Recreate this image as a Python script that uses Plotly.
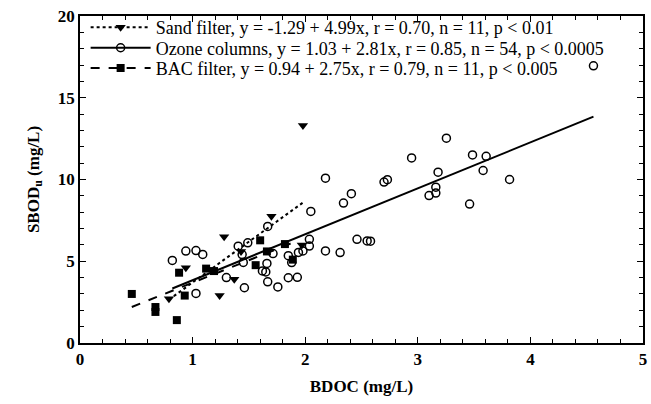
import plotly.graph_objects as go

# ---- data ----
sand_x = [0.79, 0.94, 1.24, 1.28, 1.37, 1.43, 1.70, 1.97, 1.98]
sand_y = [2.7, 4.6, 2.9, 6.5, 3.9, 5.6, 7.75, 6.0, 13.3]

ozone_x = [0.82, 0.94, 1.03, 1.09, 1.03, 1.30, 1.405, 1.49, 1.44, 1.45, 1.46,
           1.667, 1.62, 1.65, 1.66, 1.667, 1.757, 1.714, 1.85, 1.88, 1.85, 1.93,
           1.94, 1.98, 2.037, 2.037, 2.05, 2.18, 2.18, 2.31, 2.34, 2.41, 2.46,
           2.55, 2.58, 2.70, 2.73, 2.945, 3.254, 3.18, 3.16, 3.10, 3.16, 3.486,
           3.607, 3.58, 3.46, 3.815, 4.56]
ozone_y = [5.05, 5.62, 5.65, 5.42, 3.03, 4.00, 5.92, 6.13, 5.41, 4.93, 3.38,
           7.13, 4.41, 4.35, 4.87, 3.74, 3.43, 5.47, 5.34, 4.92, 3.99, 4.02,
           5.54, 5.63, 5.93, 6.34, 8.05, 10.08, 5.63, 5.53, 8.56, 9.13, 6.34,
           6.24, 6.23, 9.84, 9.99, 11.32, 12.53, 10.45, 9.53, 9.02, 9.17, 11.5,
           11.42, 10.55, 8.5, 10.0, 16.95]

bac_x = [0.46, 0.67, 0.67, 0.86, 0.88, 0.93, 1.12, 1.19, 1.56, 1.60, 1.66, 1.82, 1.89]
bac_y = [3.0, 2.2, 1.9, 1.4, 4.3, 2.9, 4.55, 4.4, 4.76, 6.28, 5.6, 6.05, 5.1]

# regression coefficients (from legend)
sand_fit = (-1.29, 4.99)
ozone_fit = (1.03, 2.81)
bac_fit = (0.94, 2.75)

labels = [
    "Sand filter, y = -1.29 + 4.99x, r = 0.70, n = 11, p < 0.01",
    "Ozone columns, y = 1.03 + 2.81x, r = 0.85, n = 54, p < 0.0005",
    "BAC filter, y = 0.94 + 2.75x, r = 0.79, n = 11, p < 0.005",
]

FONT = "Liberation Serif"


def fit_line(xs, coef):
    x0, x1 = min(xs), max(xs)
    return [x0, x1], [coef[0] + coef[1] * x0, coef[0] + coef[1] * x1]


fig = go.Figure()

groups = [
    (sand_x, sand_y, sand_fit, "dot", dict(symbol="triangle-down", size=9, color="black"), labels[0]),
    (ozone_x, ozone_y, ozone_fit, "solid",
     dict(symbol="circle-open", size=8, color="black", line=dict(width=1.5, color="black")), labels[1]),
    (bac_x, bac_y, bac_fit, "dash", dict(symbol="square", size=8, color="black"), labels[2]),
]
legend_ids = ["legend", "legend2", "legend3"]

for i, (xs, ys, coef, dash, mk, lab) in enumerate(groups):
    lx, ly = fit_line(xs, coef)
    fig.add_trace(go.Scatter(x=lx, y=ly, mode="lines", line=dict(color="black", width=2, dash=dash),
                             showlegend=False, hoverinfo="skip"))
    fig.add_trace(go.Scatter(x=xs, y=ys, mode="markers", marker=mk, showlegend=False))
    # legend entry (line + marker sample)
    fig.add_trace(go.Scatter(x=[None], y=[None], mode="lines+markers", name=lab,
                             line=dict(color="black", width=2, dash=dash), marker=mk,
                             legend=legend_ids[i], showlegend=True))

axis_common = dict(
    showgrid=False, zeroline=False, showline=True, linecolor="black", linewidth=1.5,
    mirror="ticks", ticks="inside", ticklen=6, tickcolor="black", tickwidth=1,
    tickfont=dict(family=FONT, size=17, color="black", weight="bold"),
)

fig.update_xaxes(range=[0, 5], dtick=1, tick0=0,
                 minor=dict(ticks="inside", ticklen=4, dtick=0.2, tickcolor="black"),
                 title=dict(text="BDOC (mg/L)", font=dict(family=FONT, size=17, color="black", weight="bold"),
                            standoff=12),
                 **axis_common)
fig.update_yaxes(range=[0, 20], dtick=5, tick0=0,
                 minor=dict(ticks="inside", ticklen=4, dtick=1, tickcolor="black"),
                 title=dict(text="SBOD<sub>u</sub> (mg/L)",
                            font=dict(family=FONT, size=17, color="black", weight="bold"), standoff=14),
                 **axis_common)

leg_common = dict(x=0.01, xanchor="left", yanchor="middle", bgcolor="rgba(0,0,0,0)",
                  font=dict(family=FONT, size=18, color="black"), itemwidth=60)

fig.update_layout(
    width=651, height=404,
    margin=dict(l=80, r=4, t=16, b=61),
    paper_bgcolor="white", plot_bgcolor="white",
    showlegend=True,
    legend=dict(y=0.965, **leg_common),
    legend2=dict(y=0.902, **leg_common),
    legend3=dict(y=0.840, **leg_common),
)

fig.write_html("out.html")
